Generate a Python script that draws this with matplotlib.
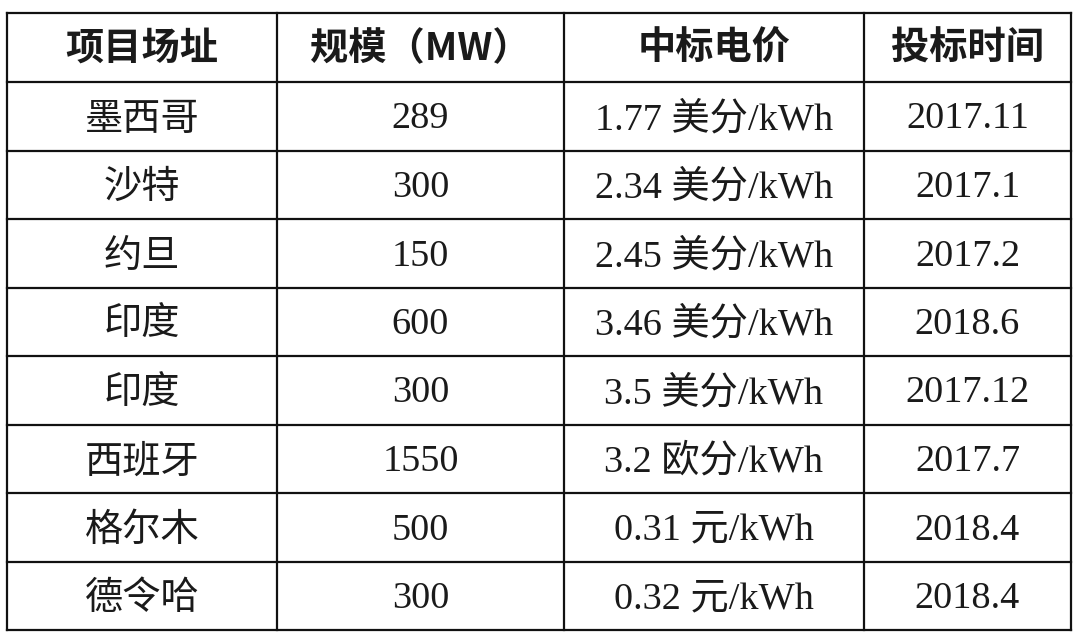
import matplotlib
matplotlib.use("Agg")
import matplotlib.pyplot as plt

headers = ["项目场址", "规模（MW）", "中标电价", "投标时间"]
sites = ["墨西哥", "沙特", "约旦", "印度", "印度", "西班牙", "格尔木", "德令哈"]
capacity = ["289", "300", "150", "600", "300", "1550", "500", "300"]
prices = ["1.77 美分/kWh", "2.34 美分/kWh", "2.45 美分/kWh", "3.46 美分/kWh",
          "3.5 美分/kWh", "3.2 欧分/kWh", "0.31 元/kWh", "0.32 元/kWh"]
dates = ["2017.11", "2017.1", "2017.2", "2018.6", "2017.12", "2017.7", "2018.4", "2018.4"]

# layout (pixels)
col_edges = [7, 277, 564, 864, 1071]
top, header_bottom, bottom = 13, 82, 630

fig = plt.figure(figsize=(10.8, 6.4), dpi=100)
ax = fig.add_axes([0, 0, 1, 1])
ax.set_xlim(0, 1080)
ax.set_ylim(640, 0)
ax.axis("off")

n = len(sites)
row_h = (bottom - header_bottom) / n
row_edges = [top, header_bottom] + [header_bottom + row_h * (i + 1) for i in range(n)]

lc = "#111111"
lw = 1.6
for y in row_edges:
    ax.plot([col_edges[0], col_edges[-1]], [y, y], color=lc, lw=lw, solid_capstyle="projecting")
for x in col_edges:
    ax.plot([x, x], [top, bottom], color=lc, lw=lw, solid_capstyle="projecting")

centers_x = [(col_edges[i] + col_edges[i + 1]) / 2 for i in range(4)]
hy = (top + header_bottom) / 2
for cx, h in zip(centers_x, headers):
    ax.text(cx, hy + 1, h, ha="center", va="center", fontsize=27.5, fontweight="bold",
            family=["Noto Sans CJK SC", "DejaVu Sans"], color="#1a1a1a")

body_family = ["Liberation Serif", "Noto Sans CJK SC"]
cjk_family = ["Noto Sans CJK SC", "DejaVu Sans"]
for i in range(n):
    cy = (row_edges[i + 1] + row_edges[i + 2]) / 2 + 3
    cols = [sites[i], capacity[i], prices[i], dates[i]]
    for j, (cx, t) in enumerate(zip(centers_x, cols)):
        fam = cjk_family if j == 0 else body_family
        ax.text(cx, cy, t, ha="center", va="center", fontsize=27.5,
                family=fam, color="#1a1a1a")

fig.savefig("out.png", dpi=100, facecolor="white")
